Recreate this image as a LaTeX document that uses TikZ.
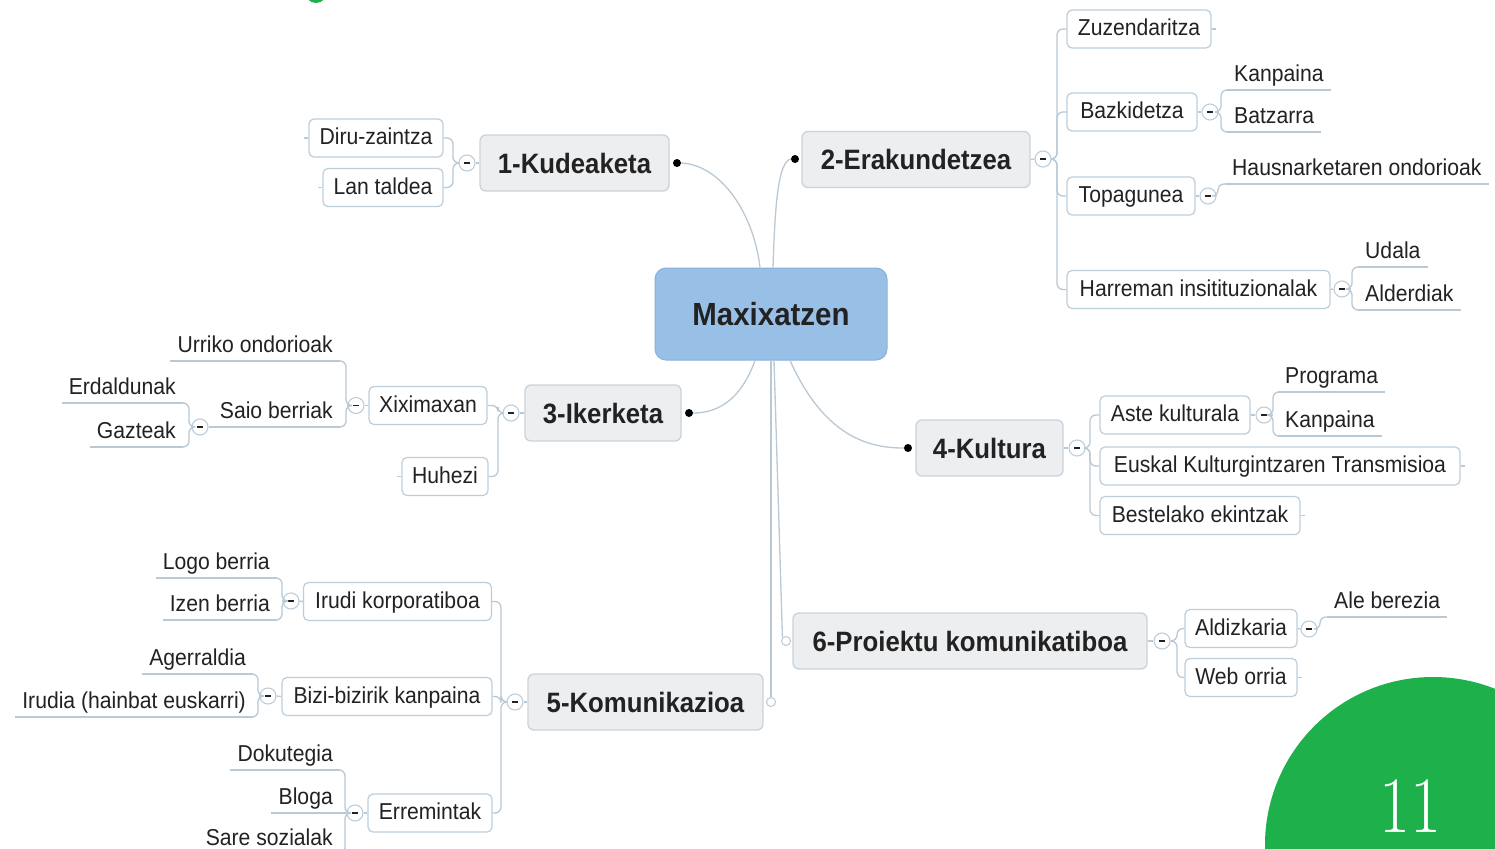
\documentclass[tikz,border=0pt]{standalone}
\usepackage{fontspec}
\setmainfont{Liberation Sans}[FakeStretch=0.92]
\newfontfamily\numfont{Latin Modern Roman}
\usetikzlibrary{calc}
\definecolor{linec}{HTML}{B9C9D6}
\definecolor{boxb}{HTML}{BDCEDB}
\definecolor{lonefill}{HTML}{EDEEF0}
\definecolor{loneb}{HTML}{C9D3DC}
\definecolor{cfill}{HTML}{98C0E6}
\definecolor{cbord}{HTML}{88B2DA}
\definecolor{txt}{HTML}{222222}
\definecolor{gr}{HTML}{1DB04B}
\newcommand{\minusmark}{\textcolor{txt}{\rule[-0.8pt]{6.5pt}{1.7pt}}}
\begin{document}
\begin{tikzpicture}[x=1pt,y=-1pt,
  conn/.style={draw=linec,line width=1.3pt},
  rc/.style={rounded corners=6pt},
  lone/.style={rectangle,rounded corners=6pt,fill=lonefill,draw=loneb,line width=1.3pt,text=txt,
    font=\bfseries\fontsize{28}{30}\selectfont,minimum height=56pt,inner sep=0pt,text height=20pt,text depth=0pt},
  ltwo/.style={rectangle,rounded corners=5pt,fill=white,draw=boxb,line width=1.2pt,text=txt,
    font=\fontsize{23}{25}\selectfont,minimum height=38pt,inner sep=0pt,text height=16.5pt,text depth=3pt},
  leaf/.style={inner xsep=7pt,inner ysep=8pt,text=txt,font=\fontsize{23}{25}\selectfont,text height=16.5pt,text depth=0pt},
  coll/.style={circle,draw=boxb,fill=white,line width=1.1pt,minimum size=16pt,inner sep=0pt},
  bdot/.style={circle,fill=black,minimum size=8pt,inner sep=0pt},
  hol/.style={circle,draw=boxb,fill=white,line width=1.1pt,minimum size=9pt,inner sep=0pt},
  centre/.style={rectangle,rounded corners=11pt,fill=cfill,draw=cbord,line width=1pt,text=txt,
    font=\bfseries\fontsize{32}{34}\selectfont,minimum width=232pt,minimum height=92pt,inner sep=0pt}
]
\useasboundingbox (0,0) rectangle (1495,848);
\clip (0,0) rectangle (1495,848);
\fill[white] (0,0) rectangle (1495,848);

% decorations
\fill[gr] (316,-8) circle[radius=11pt];
\fill[gr] (1433,845) circle[radius=168pt];
\node[text=white,font=\numfont\fontsize{80}{80}\selectfont,inner sep=0pt,text height=52pt,text depth=0pt,anchor=base] (num) at (1410,832) {\scalebox{0.84}[1]{11}};

% centre
\node[centre] (M) at (771,314) {Maxixatzen};

% level 1
\node[lone,minimum width=189pt] (k1) at (574.5,163) {1-Kudeaketa};
\node[lone,minimum width=228pt] (k2) at (916,159.5) {2-Erakundetzea};
\node[lone,minimum width=156pt] (k3) at (603,413) {3-Ikerketa};
\node[lone,minimum width=147pt] (k4) at (989.5,448) {4-Kultura};
\node[lone,minimum width=235pt] (k5) at (645.5,702) {5-Komunikazioa};
\node[lone,minimum width=354pt] (k6) at (970,641) {6-Proiektu komunikatiboa};

\node[bdot] (d1) at (677,163) {};
\node[bdot] (d2) at (795,159) {};
\node[bdot] (d3) at (689,413) {};
\node[bdot] (d4) at (908,448) {};

% centre connectors
\draw[conn] (d1.east) .. controls (722,165) and (754,215) .. ([xshift=-11pt]M.north);
\draw[conn] ([xshift=2pt]M.north) .. controls (775,205) and (778,162) .. (d2.west);
\draw[conn] ([xshift=-16pt]M.south) .. controls (740,402) and (716,413) .. (d3.east);
\draw[conn] ([xshift=19pt]M.south) .. controls (825,438) and (870,448) .. (d4.west);
\node[hol] (h6) at (786,641) {};
\node[hol] (h5) at (771,702) {};
\draw[conn] (M.south) -- (h5.north);
\draw[conn] ([xshift=3pt]M.south) -- (h6.north west);

% ---------- branch 1
\node[coll] (c1) at (467,163) {\minusmark};
\node[ltwo,minimum width=134pt] (diru) at (376,138) {Diru-zaintza};
\node[ltwo,minimum width=120pt] (lan) at (383,187.5) {Lan taldea};
\draw[conn] (k1.west) -- (c1.east);
\draw[conn,rc] (c1.west) -- (453,163) |- (diru.east);
\draw[conn,rc] (c1.west) -- (453,163) |- (lan.east);
\draw[conn] (diru.west) -- ++(-4,0);
\draw[conn] (lan.west) -- ++(-4,0);

% ---------- branch 2
\node[coll] (c2) at (1043,159) {\minusmark};
\node[ltwo,minimum width=144pt] (zuz) at (1139,29) {Zuzendaritza};
\node[ltwo,minimum width=130pt] (baz) at (1132,112) {Bazkidetza};
\node[ltwo,minimum width=128pt] (top) at (1131,196) {Topagunea};
\node[ltwo,minimum width=263pt] (har) at (1198.5,289.5) {Harreman insitituzionalak};
\draw[conn] (k2.east) -- (c2.west);
\foreach \n in {zuz,baz,top,har}{
  \draw[conn,rc] (c2.east) -- (1057,159) |- (\n.west);
}
\draw[conn] (zuz.east) -- ++(4,0);

\node[coll] (cB) at (1210,112) {\minusmark};
\node[leaf,anchor=south west] (kanB) at (1227,90) {Kanpaina};
\node[leaf,anchor=south west] (batB) at (1227,132) {Batzarra};
\draw[conn] (baz.east) -- (cB.west);
\draw[conn,rc] (cB.east) -- (1221,112) |- (kanB.south west);
\draw[conn,rc] (cB.east) -- (1221,112) |- (batB.south west);

\node[coll] (cT) at (1208,196) {\minusmark};
\node[leaf,anchor=south west] (haus) at (1225,184) {Hausnarketaren ondorioak};
\draw[conn] (top.east) -- (cT.west);
\draw[conn,rc] (cT.east) -- (1218,196) |- (haus.south west);

\node[coll] (cH) at (1342,289) {\minusmark};
\node[leaf,anchor=south west] (udala) at (1358,267) {Udala};
\node[leaf,anchor=south west] (alder) at (1358,310) {Alderdiak};
\draw[conn] (har.east) -- (cH.west);
\draw[conn,rc] (cH.east) -- (1352,289) |- (udala.south west);
\draw[conn,rc] (cH.east) -- (1352,289) |- (alder.south west);

% ---------- branch 3
\node[coll] (c3) at (511,413) {\minusmark};
\node[ltwo,minimum width=118pt] (xix) at (428,405.5) {Xiximaxan};
\node[ltwo,minimum width=86pt] (huh) at (445,476.5) {Huhezi};
\draw[conn] (k3.west) -- (c3.east);
\draw[conn,rc] (c3.west) -- (498,413) |- (xix.east);
\draw[conn,rc] (c3.west) -- (498,413) |- (huh.east);
\draw[conn] (huh.west) -- ++(-4,0);

\node[coll] (cX) at (356,405.5) {\minusmark};
\node[leaf,anchor=south east] (urr) at (340,361) {Urriko ondorioak};
\node[leaf,anchor=south east] (saio) at (340,427) {Saio berriak};
\draw[conn] (xix.west) -- (cX.east);
\draw[conn,rc] (cX.west) -- (346,405.5) |- (urr.south east);
\draw[conn,rc] (cX.west) -- (346,405.5) |- (saio.south east);

\node[coll] (cS) at (200,427) {\minusmark};
\node[leaf,anchor=south east] (erd) at (183,403) {Erdaldunak};
\node[leaf,anchor=south east] (gaz) at (183,447) {Gazteak};
\draw[conn] (saio.south west) -- (cS.east);
\draw[conn,rc] (cS.west) -- (189,427) |- (erd.south east);
\draw[conn,rc] (cS.west) -- (189,427) |- (gaz.south east);

% ---------- branch 4
\node[coll] (c4) at (1077,448) {\minusmark};
\node[ltwo,minimum width=150pt] (aste) at (1175,415) {Aste kulturala};
\node[ltwo,minimum width=360pt] (eusk) at (1280,466) {Euskal Kulturgintzaren Transmisioa};
\node[ltwo,minimum width=200pt] (best) at (1200,515.5) {Bestelako ekintzak};
\draw[conn] (k4.east) -- (c4.west);
\foreach \n in {aste,eusk,best}{
  \draw[conn,rc] (c4.east) -- (1090,448) |- (\n.west);
}
\draw[conn] (eusk.east) -- ++(4,0);
\draw[conn] (best.east) -- ++(4,0);

\node[coll] (cA) at (1264,415) {\minusmark};
\node[leaf,anchor=south west] (prog) at (1278,392) {Programa};
\node[leaf,anchor=south west] (kanA) at (1278,436) {Kanpaina};
\draw[conn] (aste.east) -- (cA.west);
\draw[conn,rc] (cA.east) -- (1273,415) |- (prog.south west);
\draw[conn,rc] (cA.east) -- (1273,415) |- (kanA.south west);

% ---------- branch 5
\node[coll] (c5) at (515,702) {\minusmark};
\node[ltwo,minimum width=188pt] (irk) at (397.5,601.5) {Irudi korporatiboa};
\node[ltwo,minimum width=210pt] (bizi) at (387,696.5) {Bizi-bizirik kanpaina};
\node[ltwo,minimum width=124pt] (err) at (430,813) {Erremintak};
\draw[conn] (k5.west) -- (c5.east);
\foreach \n in {irk,bizi,err}{
  \draw[conn,rc] (c5.west) -- (501,702) |- (\n.east);
}

\node[coll] (cI) at (291,601) {\minusmark};
\node[leaf,anchor=south east] (logo) at (277,578) {Logo berria};
\node[leaf,anchor=south east] (izen) at (277,620) {Izen berria};
\draw[conn] (irk.west) -- (cI.east);
\draw[conn,rc] (cI.west) -- (282,601) |- (logo.south east);
\draw[conn,rc] (cI.west) -- (282,601) |- (izen.south east);

\node[coll] (cBz) at (268,696) {\minusmark};
\node[leaf,anchor=south east] (ager) at (253,674) {Agerraldia};
\node[leaf,anchor=south east] (irud) at (253,717) {Irudia (hainbat euskarri)};
\draw[conn] (bizi.west) -- (cBz.east);
\draw[conn,rc] (cBz.west) -- (258,696) |- (ager.south east);
\draw[conn,rc] (cBz.west) -- (258,696) |- (irud.south east);

\node[coll] (cE) at (355,813) {\minusmark};
\node[leaf,anchor=south east] (doku) at (340,770) {Dokutegia};
\node[leaf,anchor=south east] (blog) at (340,813) {Bloga};
\node[leaf,anchor=south east] (sare) at (340,854) {Sare sozialak};
\draw[conn] (err.west) -- (cE.east);
\draw[conn,rc] (cE.west) -- (345,813) |- (doku.south east);
\draw[conn] (cE.west) -- (blog.south east);
\draw[conn,rc] (cE.west) -- (345,813) |- (sare.south east);

% ---------- branch 6
\node[coll] (c6) at (1162,641) {\minusmark};
\node[ltwo,minimum width=112pt] (ald) at (1241,628.5) {Aldizkaria};
\node[ltwo,minimum width=112pt] (web) at (1241,677.5) {Web orria};
\draw[conn] (k6.east) -- (c6.west);
\draw[conn,rc] (c6.east) -- (1177,641) |- (ald.west);
\draw[conn,rc] (c6.east) -- (1177,641) |- (web.west);
\draw[conn] (web.east) -- ++(4,0);

\node[coll] (cAl) at (1309,629) {\minusmark};
\node[leaf,anchor=south west] (ale) at (1327,617) {Ale berezia};
\draw[conn] (ald.east) -- (cAl.west);
\draw[conn,rc] (cAl.east) -- (1320,629) |- (ale.south west);

% underlines of leaf topics
\foreach \n in {kanB,batB,haus,udala,alder,urr,saio,erd,gaz,prog,kanA,logo,izen,ager,irud,doku,blog,sare,ale}{
  \draw[conn] (\n.south west) -- (\n.south east);
}
\end{tikzpicture}
\end{document}
